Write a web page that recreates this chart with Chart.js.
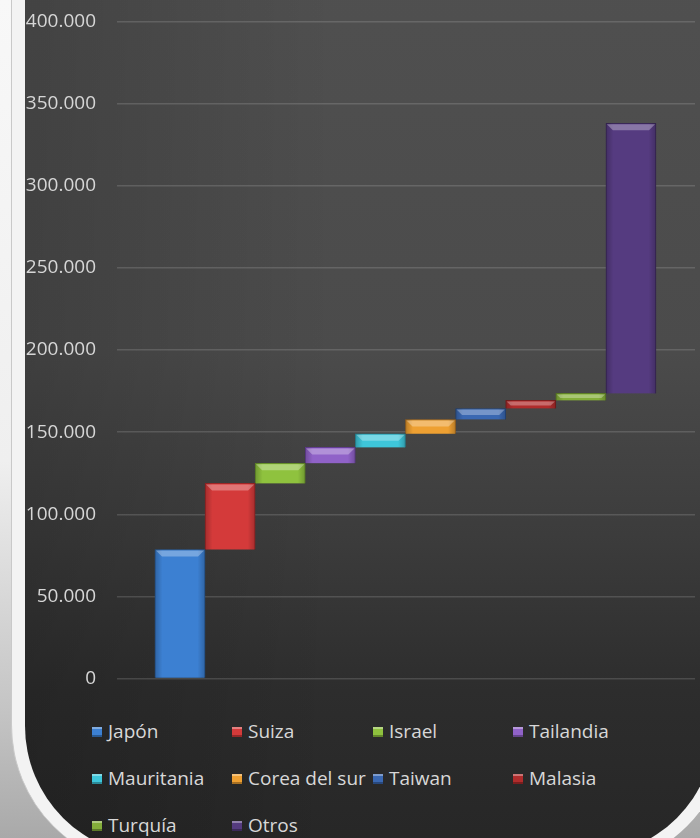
<!DOCTYPE html>
<html>
<head>
<meta charset="utf-8">
<script src="https://cdn.jsdelivr.net/npm/chart.js@4/dist/chart.umd.min.js"></script>
<style>
  body {
    margin: 0;
    width: 700px;
    height: 838px;
    overflow: hidden;
    position: relative;
    background: linear-gradient(to bottom, #f8f8f8 0%, #efefef 55%, #c4c4c4 85%, #a9a9a9 100%);
    font-family: "Open Sans", sans-serif;
  }
  #marco {
    position: absolute;
    left: 11px;
    top: -60px;
    width: 717px;
    height: 928px;
    background: #f3f3f3;
    border-left: 1px solid #c9c9c9;
    border-radius: 0 0 143px 143px;
  }
  #panel {
    position: absolute;
    left: 25px;
    top: -60px;
    width: 690px;
    height: 916px;
    border-radius: 0 0 130px 130px;
    background:
      linear-gradient(to right, rgba(0,0,0,0.16), rgba(0,0,0,0) 45%),
      linear-gradient(to bottom, #505050 0%, #4b4b4b 45%, #3c3c3c 65%, #2d2d2d 82%, #262626 100%);
  }
  #grafico {
    position: absolute;
    left: 0;
    top: -11px;
  }
  #leyenda {
    position: absolute;
    left: 92px;
    top: 716px;
    width: 580px;
  }
  .item {
    position: absolute;
    color: #d8d8d8;
    font-size: 19px;
    line-height: 30px;
    white-space: nowrap;
  }
  .item span {
    display: inline-block;
    width: 10px;
    height: 10px;
    margin-right: 6px;
    vertical-align: 1px;
    box-shadow: inset 0 2px 0 rgba(255,255,255,0.35), inset 0 -2px 0 rgba(0,0,0,0.3);
  }
</style>
</head>
<body>
<div id="marco"></div>
<div id="panel"></div>
<canvas id="grafico" width="700" height="722"></canvas>
<div id="leyenda"></div>

<script>
// Datos (cascada)
var paises = ["Japón", "Suiza", "Israel", "Tailandia", "Mauritania", "Corea del sur", "Taiwan", "Malasia", "Turquía", "Otros"];
var desde = [0, 78500, 118800, 131000, 140700, 149000, 157700, 164400, 169300, 173600];
var hasta = [78500, 118800, 131000, 140700, 149000, 157700, 164400, 169300, 173600, 338000];
var ticksY = [0, 50000, 100000, 150000, 200000, 250000, 300000, 350000, 400000];

var colores = ["#3c80d2", "#d43a3a", "#8fc23e", "#9062c8", "#3ec6da", "#eea032", "#3a68b2", "#b02c2c", "#84ae3a", "#553b80"];
var bordes = ["#2a5e9e", "#9e2626", "#66902a", "#643f94", "#2a93a4", "#b07020", "#264a82", "#7e1e1e", "#5e8026", "#3a2858"];

// Leyenda en html, 4 columnas
var columnas = [0, 140, 281, 421];
var filas = [0, 47, 94];
var leyenda = document.getElementById("leyenda");
paises.forEach(function (p, i) {
  var d = document.createElement("div");
  d.className = "item";
  d.style.left = columnas[i % 4] + "px";
  d.style.top = filas[Math.floor(i / 4)] + "px";
  d.innerHTML = '<span style="background:' + colores[i] + '"></span>' + p;
  leyenda.appendChild(d);
});

// Bisel de las barras
var bisel = {
  id: "bisel",
  afterDatasetsDraw: function (chart) {
    var ctx = chart.ctx;
    chart.data.datasets.forEach(function (ds, i) {
      chart.getDatasetMeta(i).data.forEach(function (bar) {
        var p = bar.getProps(["x", "y", "base", "width"], true);
        var l = p.x - p.width / 2, r = p.x + p.width / 2;
        var top = Math.min(p.y, p.base), bot = Math.max(p.y, p.base);
        var b = Math.min(6, (bot - top) / 2);
        ctx.save();
        var g = ctx.createLinearGradient(l, 0, r, 0);
        g.addColorStop(0, "rgba(0,0,0,0.22)");
        g.addColorStop(0.15, "rgba(0,0,0,0)");
        g.addColorStop(0.85, "rgba(0,0,0,0)");
        g.addColorStop(1, "rgba(0,0,0,0.22)");
        ctx.fillStyle = g;
        ctx.fillRect(l, top, r - l, bot - top);
        ctx.fillStyle = "rgba(255,255,255,0.3)";
        ctx.beginPath();
        ctx.moveTo(l + 1, top + 1);
        ctx.lineTo(r - 1, top + 1);
        ctx.lineTo(r - 1 - b, top + 1 + b);
        ctx.lineTo(l + 1 + b, top + 1 + b);
        ctx.closePath();
        ctx.fill();
        ctx.restore();
      });
    });
  },
};

var datasets = paises.map(function (p, i) {
  return {
    label: p,
    data: [{ x: i, y: [desde[i], hasta[i]] }],
    backgroundColor: colores[i],
    borderColor: bordes[i],
    borderWidth: 1,
    grouped: false,
    barPercentage: 1,
    categoryPercentage: 1,
  };
});

new Chart(document.getElementById("grafico").getContext("2d"), {
  type: "bar",
  data: { datasets: datasets },
  options: {
    responsive: false,
    animation: false,
    layout: { padding: { top: 10, bottom: 11, left: 0, right: 5 } },
    plugins: { legend: { display: false }, tooltip: { enabled: false } },
    scales: {
      x: { type: "linear", min: -1.257, max: 10.278, offset: false, display: false },
      y: {
        min: 0,
        max: 400000,
        afterBuildTicks: function (scale) {
          scale.ticks = ticksY.map(function (v) { return { value: v }; });
        },
        afterFit: function (scale) {
          scale.width = 117;
        },
        ticks: {
          color: "#d6d6d6",
          padding: 21,
          font: { family: "Open Sans", size: 19 },
          callback: function (v) {
            return v.toString().replace(/\B(?=(\d{3})+(?!\d))/g, ".");
          },
        },
        grid: { color: "rgba(255,255,255,0.14)", lineWidth: 1.5, drawTicks: false },
        border: { display: false },
      },
    },
  },
  plugins: [bisel],
});
</script>
</body>
</html>
